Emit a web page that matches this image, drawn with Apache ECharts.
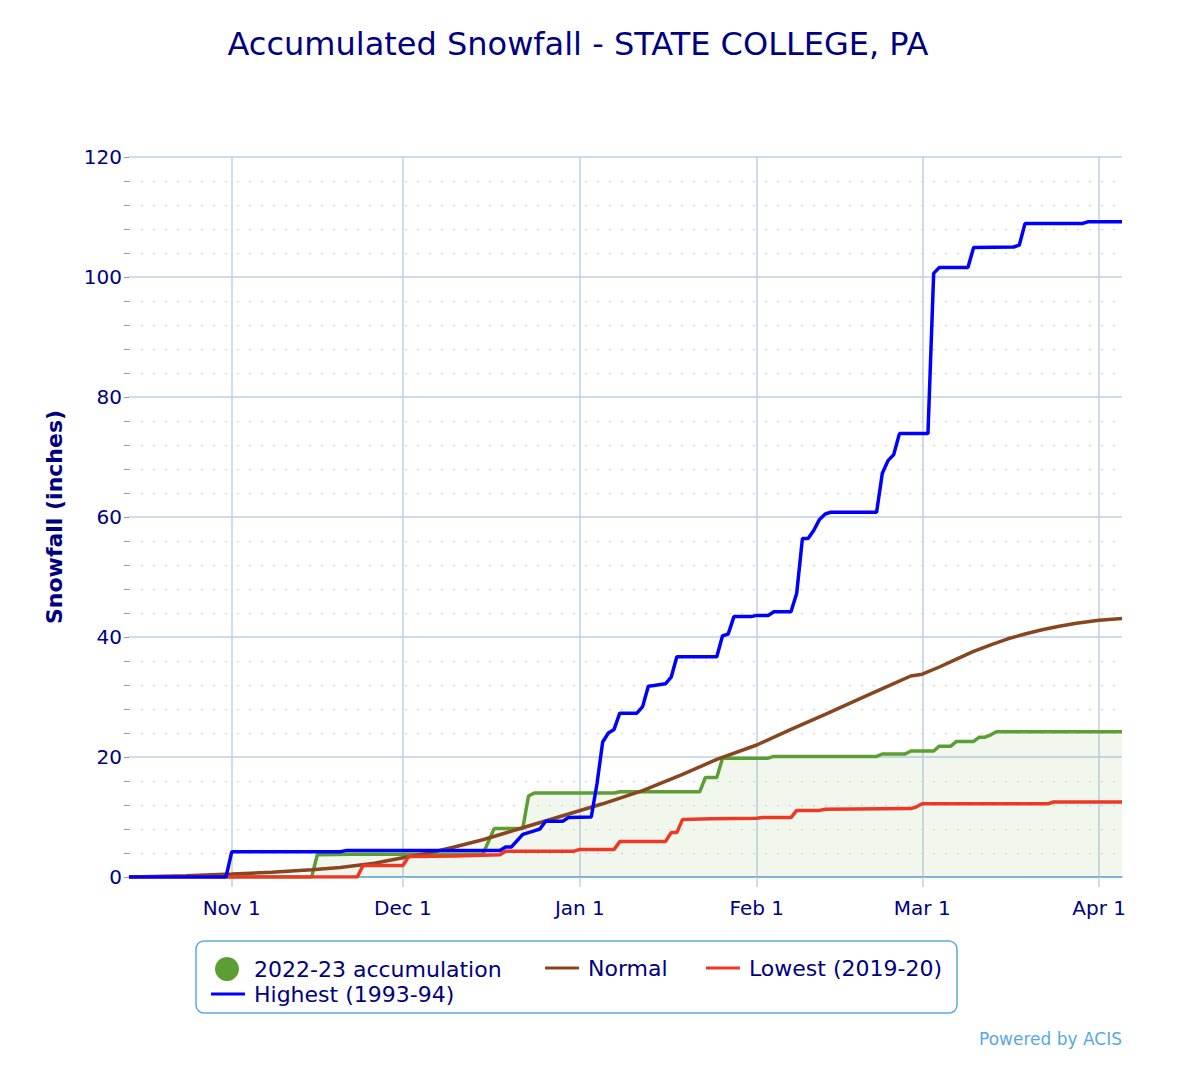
<!DOCTYPE html>
<html>
<head>
<meta charset="utf-8">
<script src="https://cdn.jsdelivr.net/npm/echarts@6/dist/echarts.min.js"></script>
<style>html,body{margin:0;padding:0;background:#fff}#chart{width:1200px;height:1070px}</style>
</head>
<body>
<div id="chart"></div>
<script>
// ---- axis domain (season days, leap-year calendar as in the source chart) ----
const seasonStart = '1999-10-14';
const seasonEnd = '2000-04-05';
const monthNames = ['Jan','Feb','Mar','Apr','May','Jun','Jul','Aug','Sep','Oct','Nov','Dec'];
const yTickStep = 20;
const yMax = 120;

// ---- series (date MM-DD, accumulated inches) ----
const accum_2022_23 = [
  ['10-14',0],['11-15',0],['11-16',3.7],['11-22',3.8],['12-15',3.8],['12-17',8.1],['12-22',8.1],
  ['12-23',13.5],['12-24',14.0],['01-07',14.0],['01-08',14.2],['01-22',14.2],['01-23',16.6],
  ['01-25',16.6],['01-26',19.8],['02-03',19.8],['02-04',20.1],['02-22',20.1],['02-23',20.5],
  ['02-27',20.5],['02-28',21.0],['03-03',21.0],['03-04',21.8],['03-06',21.8],['03-07',22.6],
  ['03-10',22.6],['03-11',23.3],['03-12',23.3],['03-13',23.7],['03-14',24.2],['04-05',24.2]
];
const normal = [
  ['10-14',0],['10-24',0.2],['11-01',0.5],['11-08',0.8],['11-15',1.2],['11-20',1.6],['11-26',2.3],
  ['12-01',3.2],['12-05',3.9],['12-10',5.0],['12-15',6.2],['12-22',8.2],['12-29',10.2],['01-05',12.2],
  ['01-12',14.4],['01-19',17.1],['01-25',19.6],['02-01',22.0],['02-07',24.6],['02-13',27.1],
  ['02-19',29.7],['02-24',31.8],['02-28',33.5],['03-01',33.8],['03-04',35.0],['03-07',36.3],
  ['03-10',37.6],['03-13',38.7],['03-16',39.7],['03-19',40.5],['03-22',41.2],['03-25',41.8],
  ['03-28',42.3],['04-01',42.8],['04-05',43.1]
];
const lowest_2019_20 = [
  ['10-14',0],['11-23',0],['11-24',1.9],['12-01',1.9],['12-02',3.4],['12-10',3.5],['12-18',3.7],
  ['12-19',4.3],['12-31',4.3],['01-01',4.6],['01-07',4.6],['01-08',5.9],['01-16',5.9],['01-17',7.4],
  ['01-18',7.4],['01-19',9.6],['01-24',9.7],['02-01',9.8],['02-02',9.9],['02-07',9.9],['02-08',11.1],
  ['02-12',11.1],['02-13',11.3],['02-28',11.4],['02-29',11.7],['03-01',12.2],['03-23',12.2],
  ['03-24',12.5],['04-05',12.5]
];
const highest_1993_94 = [
  ['10-14',0],['10-31',0],['11-01',4.2],['11-20',4.2],['11-21',4.4],['12-18',4.4],['12-19',5.0],
  ['12-20',5.0],['12-22',7.1],['12-23',7.4],['12-24',7.7],['12-25',8.0],['12-26',9.3],['12-29',9.3],
  ['12-30',9.9],['01-03',10.0],['01-04',15.5],['01-05',22.5],['01-06',24.0],['01-07',24.6],
  ['01-08',27.3],['01-11',27.3],['01-12',28.4],['01-13',31.8],['01-14',31.9],['01-16',32.2],
  ['01-17',33.3],['01-18',36.7],['01-25',36.7],['01-26',40.2],['01-27',40.5],['01-28',43.4],
  ['01-31',43.4],['02-01',43.6],['02-03',43.6],['02-04',44.2],['02-07',44.2],['02-08',47.3],
  ['02-09',56.4],['02-10',56.4],['02-11',57.8],['02-12',59.6],['02-13',60.5],['02-14',60.8],
  ['02-22',60.8],['02-23',67.3],['02-24',69.4],['02-25',70.4],['02-26',73.9],['03-02',73.9],
  ['03-03',100.6],['03-04',101.6],['03-09',101.6],['03-10',104.9],['03-17',105.0],['03-18',105.3],
  ['03-19',108.9],['03-29',108.9],['03-30',109.2],['04-05',109.2]
];

// build day categories
const days = [];
for (let t = Date.parse(seasonStart + 'T00:00:00Z'); t <= Date.parse(seasonEnd + 'T00:00:00Z'); t += 86400000) {
  const d = new Date(t);
  days.push(String(d.getUTCMonth() + 1).padStart(2, '0') + '-' + String(d.getUTCDate()).padStart(2, '0'));
}
const isMonthStart = (i, v) => String(v).endsWith('-01');
const fmtDay = v => monthNames[+v.slice(0, 2) - 1] + ' ' + (+v.slice(3));

const FONT = 'DejaVu Sans';
const NAVY = '#000080';
const GRID = '#bcd2e9';

const chart = echarts.init(document.getElementById('chart'), null, {renderer: 'svg'});
const lineSeries = (name, data, color, extra) => Object.assign({
  name, type: 'line', data, symbol: 'none', showSymbol: false,
  lineStyle: {color, width: 3.5}, itemStyle: {color}
}, extra || {});

const legendText = pad => ({fontFamily: FONT, fontSize: 22, color: NAVY, padding: [0, 0, 0, pad]});
const legendBase = {padding: 0, selectedMode: false};

chart.setOption({
  animation: false,
  backgroundColor: '#fff',
  grid: {left: 129, right: 78, top: 157, bottom: 193, containLabel: false},
  xAxis: {
    type: 'category', data: days, boundaryGap: false,
    axisLine: {lineStyle: {color: '#5ea7e2', width: 1.5}},
    axisTick: {interval: isMonthStart, length: 10, lineStyle: {color: GRID, width: 1.5}},
    axisLabel: {interval: isMonthStart, formatter: fmtDay, color: NAVY, fontSize: 20, fontFamily: FONT, margin: 21},
    splitLine: {show: true, interval: isMonthStart, lineStyle: {color: GRID, width: 1.5}}
  },
  yAxis: {
    type: 'value', min: 0, max: yMax, interval: yTickStep,
    name: 'Snowfall (inches)', nameLocation: 'middle', nameGap: 64,
    nameTextStyle: {fontFamily: FONT, fontSize: 22, fontWeight: 'bold', color: NAVY},
    axisLine: {show: false},
    axisTick: {show: true, length: 5, lineStyle: {color: '#999'}},
    minorTick: {show: true, splitNumber: 5, length: 5, lineStyle: {color: '#999'}},
    axisLabel: {color: NAVY, fontSize: 20, fontFamily: FONT, margin: 7},
    splitLine: {lineStyle: {color: GRID, width: 1.5}},
    minorSplitLine: {show: true, lineStyle: {color: '#d2d2d2', width: 1, type: [2, 10]}}
  },
  legend: [
    Object.assign({data: [{name: '2022-23 accumulation', icon: 'circle'}], left: 215, top: 957, itemWidth: 24, itemHeight: 24, textStyle: legendText(10)}, legendBase),
    Object.assign({data: [{name: 'Normal', icon: 'rect'}], left: 545, top: 957, itemWidth: 34, itemHeight: 3, textStyle: legendText(4)}, legendBase),
    Object.assign({data: [{name: 'Lowest (2019-20)', icon: 'rect'}], left: 706, top: 957, itemWidth: 34, itemHeight: 3, textStyle: legendText(4)}, legendBase),
    Object.assign({data: [{name: 'Highest (1993-94)', icon: 'rect'}], left: 211, top: 983, itemWidth: 34, itemHeight: 3, textStyle: legendText(4)}, legendBase)
  ],
  graphic: [
    {type: 'rect', z: -1, shape: {x: 196, y: 941, width: 761, height: 72, r: 8},
      style: {fill: '#fff', stroke: '#5aa9e2', lineWidth: 1.5}},
    {type: 'text', x: 578, y: 44,
      style: {text: 'Accumulated Snowfall - STATE COLLEGE, PA', fill: NAVY, font: '32px "DejaVu Sans"', align: 'center', verticalAlign: 'middle'}},
    {type: 'text', x: 1122, y: 1039,
      style: {text: 'Powered by ACIS', fill: '#5aa7e3', font: '17px "DejaVu Sans"', align: 'right', verticalAlign: 'middle'}}
  ],
  series: [
    lineSeries('2022-23 accumulation', accum_2022_23, '#5c9e33', {areaStyle: {color: 'rgba(92,158,51,0.12)'}}),
    lineSeries('Normal', normal, '#87461f'),
    lineSeries('Lowest (2019-20)', lowest_2019_20, '#ef3824'),
    lineSeries('Highest (1993-94)', highest_1993_94, '#0000ff')
  ]
});
</script>
</body>
</html>
